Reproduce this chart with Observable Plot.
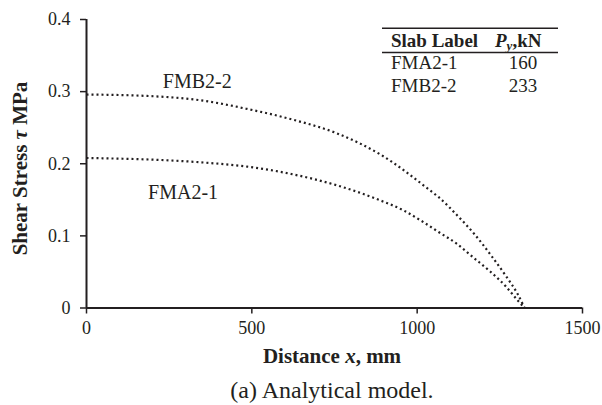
<!DOCTYPE html>
<html>
<head>
<meta charset="utf-8">
<script src="https://cdn.jsdelivr.net/npm/d3@7"></script>
<script src="https://cdn.jsdelivr.net/npm/@observablehq/plot@0.6"></script>
<style>
  html, body { margin: 0; padding: 0; background: #fff; }
  #chart { width: 602px; height: 405px; }
</style>
</head>
<body>
<div id="chart"></div>
<script>
// ---- data ----
const xTicks = [0, 500, 1000, 1500];
const xTickLabels = ["0", "500", "1000", "1500"];
const yTicks = [0, 0.1, 0.2, 0.3, 0.4];
const yTickLabels = ["0", "0.1", "0.2", "0.3", "0.4"];

const fmb22X = [0, 183, 345, 486, 617, 758, 890, 1039, 1064, 1122, 1174, 1225, 1269, 1303, 1325];
const fmb22Y = [0.296, 0.294, 0.288, 0.276, 0.262, 0.242, 0.2125, 0.163, 0.154, 0.128, 0.102, 0.072, 0.044, 0.020, 0];
const fma21X = [0, 345, 486, 617, 758, 884, 960, 1012, 1066, 1120, 1170, 1220, 1268, 1305, 1325];
const fma21Y = [0.208, 0.202, 0.196, 0.186, 0.170, 0.150, 0.135, 0.121, 0.105, 0.089, 0.070, 0.051, 0.030, 0.010, 0];

const seriesNames = ["FMB2-2", "FMA2-1"];
const labelX = [335, 292];
const labelY = [0.314, 0.160];

const tableLabels = ["FMA2-1", "FMB2-2"];
const tableLoads = [160, 233];

// ---- build ----
const ink = "#231f20";
const FONT = "Liberation Serif, Times New Roman, serif";
const fmb = fmb22X.map((x, i) => ({x, y: fmb22Y[i]}));
const fma = fma21X.map((x, i) => ({x, y: fma21Y[i]}));
const labels = seriesNames.map((name, i) => ({name, x: labelX[i], y: labelY[i]}));

const dotted = {x: "x", y: "y", curve: "monotone-x", stroke: ink, strokeWidth: 2.2,
  strokeDasharray: "2,3", strokeLinecap: "butt"};

const chart = Plot.plot({
  width: 602,
  height: 405,
  marginLeft: 86,
  marginRight: 20,
  marginTop: 19,
  marginBottom: 97.5,
  x: {domain: [0, 1500]},
  y: {domain: [0, 0.4]},
  style: "font-family: Liberation Serif, Times New Roman, serif; font-size: 18px; color: #231f20; background: #fff;",
  marks: [
    Plot.axisX({ticks: xTicks, tickFormat: d => xTickLabels[xTicks.indexOf(d)], tickSize: 6, tickPadding: 7,
      label: null, fontSize: 18, fontFamily: FONT, strokeWidth: 1.5}),
    Plot.axisY({ticks: yTicks, tickFormat: d => yTickLabels[yTicks.indexOf(d)], tickSize: 6, tickPadding: 10,
      label: null, fontSize: 18, fontFamily: FONT, strokeWidth: 1.5}),
    Plot.ruleY([0], {stroke: ink, strokeWidth: 2}),
    Plot.ruleX([0], {stroke: ink, strokeWidth: 2}),
    Plot.line(fmb, dotted),
    Plot.line(fma, dotted),
    Plot.text(labels, {x: "x", y: "y", text: "name", fontSize: 20, fontFamily: FONT, fill: ink})
  ]
});

document.getElementById("chart").appendChild(chart);

// ---- annotations: titles, caption, table ----
const svg = d3.select(chart);
svg.attr("font-family", FONT);
const g = svg.append("g").attr("fill", ink).attr("font-family", FONT);

// y title
const yt = g.append("text")
  .attr("transform", "translate(27,168.5) rotate(-90)")
  .attr("text-anchor", "middle")
  .attr("font-size", 21).attr("font-weight", "bold");
yt.append("tspan").text("Shear Stress ");
yt.append("tspan").attr("font-style", "italic").text("τ");
yt.append("tspan").text(" MPa");

// x title
const xt = g.append("text")
  .attr("x", 332).attr("y", 363)
  .attr("text-anchor", "middle")
  .attr("font-size", 21).attr("font-weight", "bold");
xt.append("tspan").text("Distance ");
xt.append("tspan").attr("font-style", "italic").text("x");
xt.append("tspan").text(", mm");

// caption
g.append("text")
  .attr("x", 332).attr("y", 398)
  .attr("text-anchor", "middle")
  .attr("font-size", 24)
  .text("(a) Analytical model.");

// table
const tg = g.append("g");
tg.append("line").attr("x1", 382).attr("x2", 558).attr("y1", 28.3).attr("y2", 28.3)
  .attr("stroke", ink).attr("stroke-width", 1.6);
tg.append("line").attr("x1", 382).attr("x2", 558).attr("y1", 52.5).attr("y2", 52.5)
  .attr("stroke", ink).attr("stroke-width", 1.6);
tg.append("text").attr("x", 391).attr("y", 46.5).attr("text-anchor", "start")
  .attr("font-size", 19).attr("font-weight", "bold").text("Slab Label");
const ph = tg.append("text").attr("x", 495).attr("y", 46.5).attr("text-anchor", "start")
  .attr("font-size", 19).attr("font-weight", "bold");
ph.append("tspan").attr("font-style", "italic").text("P");
ph.append("tspan").attr("font-style", "italic").attr("font-size", 13).attr("dy", 3).text("y");
ph.append("tspan").attr("dy", -3).text(",kN");
tableLabels.forEach((lab, i) => {
  const yb = 69 + i * 22.7;
  tg.append("text").attr("x", 391).attr("y", yb).attr("text-anchor", "start")
    .attr("font-size", 19).text(lab);
  tg.append("text").attr("x", 523).attr("y", yb).attr("text-anchor", "middle")
    .attr("font-size", 19).text(String(tableLoads[i]));
});

svg.selectAll("text").attr("font-family", FONT);
</script>
</body>
</html>
